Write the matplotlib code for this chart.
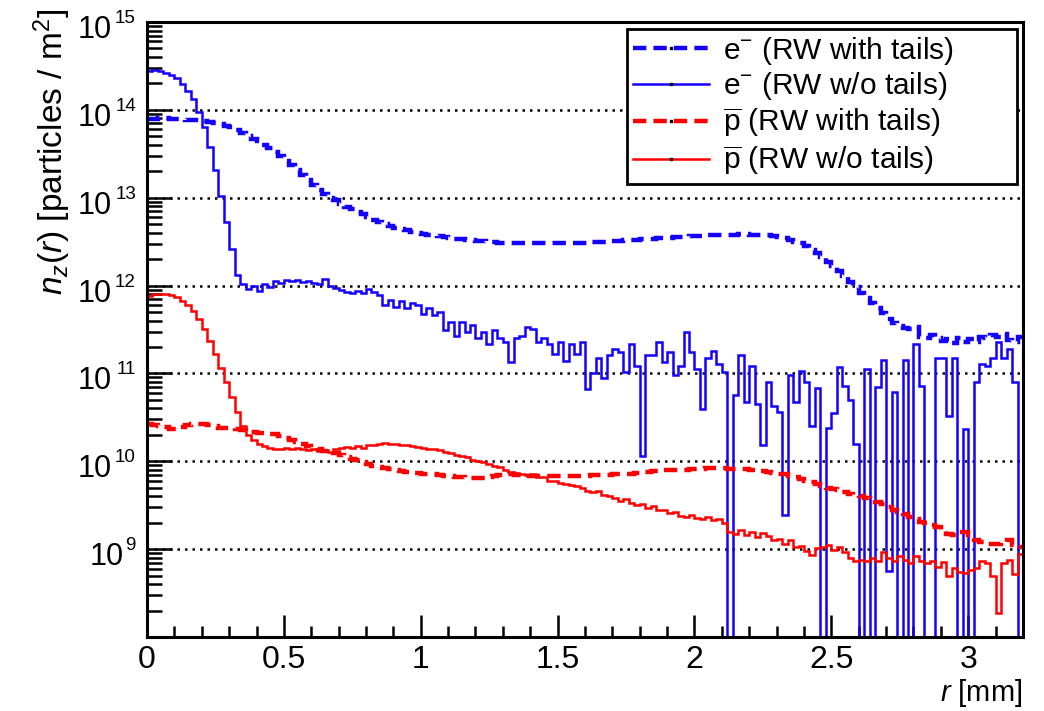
import numpy as np
import matplotlib
matplotlib.use('Agg')
import matplotlib.pyplot as plt
from matplotlib.lines import Line2D
from matplotlib.ticker import LogLocator, MultipleLocator, FixedLocator, NullFormatter

plt.rcParams['font.family'] = ['Liberation Sans', 'DejaVu Sans']
plt.rcParams['mathtext.fontset'] = 'custom'
plt.rcParams['mathtext.rm'] = 'Liberation Sans'
plt.rcParams['mathtext.it'] = 'Liberation Sans:italic'

# log10 of n_z(r) per 0.02 mm bin; None = empty bin
bin_w = 0.02
e_wo_log = [
    14.44, 14.45, 14.44, 14.42, 14.40, 14.36, 14.30, 14.22, 14.12, 13.98,
    13.80, 13.58, 13.32, 13.02, 12.72, 12.42, 12.12, 12.02, 11.96, 12.00,
    11.94, 12.02, 11.98, 12.05, 12.03, 12.06, 12.05, 12.06, 12.04, 12.05,
    12.03, 12.02, 12.07, 12.00, 11.97, 11.95, 11.93, 11.92, 11.94, 11.91,
    11.96, 11.93, 11.89, 11.78, 11.84, 11.76, 11.82, 11.74, 11.80, 11.78,
    11.68, 11.74, 11.67, 11.70, 11.49, 11.59, 11.43, 11.59, 11.47, 11.55,
    11.40, 11.47, 11.33, 11.49, 11.40, 11.36, 11.13, 11.40, 11.43, 11.53,
    11.51, 11.36, 11.40, 11.33, 11.22, 11.36, 11.14, 11.33, 11.22, 11.36,
    10.82, 11.00, 11.17, 10.95, 11.21, 11.28, 11.24, 11.02, 11.34, 11.09,
    10.06, 11.21, 11.21, 11.36, 11.13, 11.24, 10.98, 11.09, 11.47, 11.24,
    11.05, 10.60, 11.17, 11.26, 11.11, 11.02, None, 10.75, 11.21, 10.67,
    11.09, 10.65, 10.18, 10.90, 10.63, 10.56, 9.39, 10.98, 10.67, 11.03,
    10.90, 10.40, 10.83, None, 10.38, 10.55, 11.07, 10.86, 10.70, 10.20,
    None, 11.05, None, 10.85, 11.15, 8.75, 10.79, None, 11.15, None,
    11.34, 10.86, None, None, 11.17, 11.17, 10.52, 11.17, None, 10.37,
    None, 10.90, 11.11, 11.09, 11.17, 11.36, 11.17, 11.28, 10.90, None,
]
e_with_log = [
    13.90, 13.90, 13.91, 13.91, 13.90, 13.90, 13.90, 13.89, 13.89, 13.88,
    13.87, 13.86, 13.85, 13.84, 13.82, 13.80, 13.77, 13.74, 13.70, 13.67,
    13.64, 13.60, 13.57, 13.52, 13.47, 13.42, 13.37, 13.31, 13.26, 13.20,
    13.14, 13.09, 13.04, 13.00, 12.97, 12.93, 12.90, 12.87, 12.84, 12.81,
    12.78, 12.75, 12.72, 12.70, 12.68, 12.66, 12.64, 12.63, 12.61, 12.60,
    12.59, 12.58, 12.57, 12.56, 12.55, 12.54, 12.53, 12.53, 12.52, 12.52,
    12.51, 12.51, 12.50, 12.50, 12.49, 12.49, 12.49, 12.49, 12.49, 12.49,
    12.49, 12.48, 12.48, 12.48, 12.48, 12.48, 12.48, 12.48, 12.48, 12.49,
    12.49, 12.50, 12.50, 12.50, 12.51, 12.51, 12.51, 12.52, 12.52, 12.52,
    12.53, 12.53, 12.53, 12.54, 12.54, 12.54, 12.55, 12.55, 12.55, 12.56,
    12.56, 12.56, 12.57, 12.57, 12.57, 12.58, 12.58, 12.58, 12.59, 12.59,
    12.58, 12.58, 12.57, 12.57, 12.56, 12.55, 12.54, 12.52, 12.50, 12.48,
    12.45, 12.41, 12.37, 12.32, 12.27, 12.22, 12.17, 12.11, 12.04, 11.98,
    11.92, 11.86, 11.80, 11.74, 11.69, 11.62, 11.57, 11.54, 11.52, 11.51,
    11.53, 11.42, 11.40, 11.44, 11.40, 11.37, 11.39, 11.35, 11.40, 11.36,
    11.39, 11.36, 11.42, 11.40, 11.44, 11.41, 11.45, 11.38, 11.36, 11.42,
]
p_wo_log = [
    11.88, 11.90, 11.90, 11.90, 11.89, 11.87, 11.83, 11.78, 11.71, 11.62,
    11.50, 11.37, 11.22, 11.06, 10.90, 10.73, 10.56, 10.40, 10.30, 10.24,
    10.20, 10.17, 10.15, 10.14, 10.14, 10.15, 10.14, 10.15, 10.14, 10.13,
    10.14, 10.12, 10.13, 10.11, 10.14, 10.15, 10.16, 10.15, 10.17, 10.15,
    10.18, 10.19, 10.20, 10.21, 10.20, 10.20, 10.19, 10.19, 10.17, 10.16,
    10.15, 10.14, 10.14, 10.13, 10.11, 10.09, 10.07, 10.06, 10.05, 10.02,
    10.00, 9.99, 9.97, 9.95, 9.93, 9.90, 9.88, 9.87, 9.86, 9.84,
    9.85, 9.82, 9.82, 9.78, 9.77, 9.75, 9.74, 9.73, 9.72, 9.70,
    9.66, 9.65, 9.66, 9.62, 9.60, 9.58, 9.55, 9.57, 9.53, 9.50,
    9.51, 9.47, 9.49, 9.44, 9.45, 9.41, 9.42, 9.38, 9.37, 9.39,
    9.36, 9.34, 9.37, 9.33, 9.34, 9.30, 9.20, 9.17, 9.22, 9.16,
    9.20, 9.14, 9.18, 9.15, 9.10, 9.12, 9.06, 9.10, 9.02, 9.04,
    8.98, 8.93, 9.01, 9.02, 9.05, 8.99, 9.03, 8.97, 8.90, 8.86,
    8.88, 8.86, 8.90, 8.87, 8.97, 8.90, 8.86, 8.92, 8.88, 8.84,
    8.92, 8.87, 8.84, 8.87, 8.80, 8.85, 8.70, 8.78, 8.74, 8.73,
    8.76, 8.78, 8.86, 8.84, 8.70, 8.27, 8.84, 8.88, 8.72, 8.95,
]
p_with_log = [
    10.42, 10.41, 10.40, 10.39, 10.37, 10.37, 10.39, 10.41, 10.42, 10.42,
    10.42, 10.41, 10.40, 10.38, 10.38, 10.38, 10.37, 10.36, 10.35, 10.33,
    10.32, 10.32, 10.31, 10.31, 10.29, 10.27, 10.24, 10.22, 10.20, 10.17,
    10.15, 10.14, 10.12, 10.11, 10.09, 10.07, 10.05, 10.03, 10.01, 9.99,
    9.97, 9.95, 9.94, 9.92, 9.91, 9.90, 9.89, 9.88, 9.87, 9.87,
    9.86, 9.86, 9.85, 9.84, 9.83, 9.83, 9.82, 9.82, 9.81, 9.81,
    9.81, 9.81, 9.82, 9.83, 9.84, 9.85, 9.85, 9.84, 9.84, 9.83,
    9.83, 9.83, 9.83, 9.83, 9.83, 9.83, 9.83, 9.83, 9.83, 9.83,
    9.83, 9.84, 9.84, 9.84, 9.84, 9.85, 9.85, 9.86, 9.86, 9.87,
    9.88, 9.88, 9.89, 9.89, 9.90, 9.90, 9.90, 9.90, 9.90, 9.91,
    9.91, 9.91, 9.92, 9.92, 9.92, 9.92, 9.91, 9.91, 9.91, 9.91,
    9.90, 9.90, 9.89, 9.88, 9.87, 9.86, 9.85, 9.83, 9.82, 9.80,
    9.78, 9.76, 9.74, 9.72, 9.70, 9.68, 9.67, 9.65, 9.63, 9.62,
    9.60, 9.58, 9.57, 9.54, 9.51, 9.48, 9.45, 9.42, 9.40, 9.37,
    9.34, 9.31, 9.30, 9.27, 9.25, 9.21, 9.17, 9.16, 9.20, 9.19,
    9.13, 9.10, 9.08, 9.06, 9.06, 9.06, 9.08, 9.10, 9.05, 9.03,
]

labels = [r'e$^{-}$ (RW with tails)', r'e$^{-}$ (RW w/o tails)',
          r'$\overline{\mathrm{p}}$ (RW with tails)', r'$\overline{\mathrm{p}}$ (RW w/o tails)']
decades = [9, 10, 11, 12, 13, 14, 15]
x_ticks = [0, 0.5, 1, 1.5, 2, 2.5, 3]


def to_lin(vals):
    return np.array([0.0 if v is None else 10.0 ** v for v in vals])


edges = np.arange(len(e_wo_log) + 1) * bin_w

blue = '#1400ff'
red = '#ff0000'
dash = (3, 1.6)
lw_dash = 3.2
lw_solid = 1.8

fig = plt.figure(figsize=(10.44, 7.11), dpi=100)
ax = fig.add_axes([147 / 1044, 1 - 637 / 711, 876 / 1044, 615 / 711])

ax.stairs(to_lin(e_with_log), edges, baseline=None, color=blue, lw=lw_dash, ls=(0, dash), zorder=3)
ax.stairs(to_lin(e_wo_log), edges, baseline=None, color=blue, lw=lw_solid, zorder=3)
ax.stairs(to_lin(p_with_log), edges, baseline=None, color=red, lw=lw_dash, ls=(0, dash), zorder=3)
ax.stairs(to_lin(p_wo_log), edges, baseline=None, color=red, lw=lw_solid, zorder=3)

ax.set_yscale('log')
ax.set_ylim(1e8, 1e15)
ax.set_xlim(0, 3.2)

ax.yaxis.set_major_locator(FixedLocator([10.0 ** d for d in decades]))
ax.yaxis.set_major_formatter(NullFormatter())
ax.yaxis.set_minor_locator(LogLocator(base=10, subs=np.arange(2, 10), numticks=20))
ax.yaxis.set_minor_formatter(NullFormatter())
ax.xaxis.set_minor_locator(MultipleLocator(0.1))
ax.set_xticks(x_ticks)
ax.set_xticklabels([f'{v:g}' for v in x_ticks])

# ROOT style labels: big "10" with a small exponent, right aligned as a whole
for d in decades:
    exp_w = 12 * len(str(d))
    ax.annotate('10', xy=(0, 10.0 ** d), xycoords=('axes fraction', 'data'),
                xytext=(-11 - exp_w, -16), textcoords='offset pixels', ha='right',
                va='baseline', fontsize=22)
    ax.annotate(str(d), xy=(0, 10.0 ** d), xycoords=('axes fraction', 'data'),
                xytext=(-11, -1), textcoords='offset pixels', ha='right', va='baseline',
                fontsize=13.5)

for d in decades[:-1]:
    ax.axhline(10.0 ** d, color='black', lw=1.8, ls=(0, (1, 2)), zorder=1)

ax.tick_params(axis='both', which='both', direction='in', top=False, right=False, width=1.8)
ax.tick_params(axis='y', which='major', length=18)
ax.tick_params(axis='y', which='minor', length=11)
ax.tick_params(axis='x', which='major', length=16, pad=6, labelsize=23)
ax.tick_params(axis='x', which='minor', length=8)
for s in ax.spines.values():
    s.set_linewidth(2.2)
    s.set_zorder(4)

fig.text(52 / 1044, 1 - 9 / 711, r'$n_{z}(r)$ [particles / m$^{2}$]', rotation=90,
         ha='center', va='top', fontsize=24)
fig.text(1022 / 1044, 1 - 701 / 711, r'$r$ [mm]', ha='right', va='baseline', fontsize=21)

handles = [
    Line2D([], [], color=blue, lw=lw_dash, ls=(0, dash), marker='s', markersize=2,
           mfc='black', mec='black'),
    Line2D([], [], color=blue, lw=lw_solid, marker='s', markersize=2, mfc='black', mec='black'),
    Line2D([], [], color=red, lw=lw_dash, ls=(0, dash), marker='s', markersize=2,
           mfc='black', mec='black'),
    Line2D([], [], color=red, lw=lw_solid, marker='s', markersize=2, mfc='black', mec='black'),
]
leg = ax.legend(handles, labels, loc='upper left', bbox_to_anchor=(0.548, 0.738, 0.445, 0.251),
                mode='expand', fontsize=21.5, numpoints=1, handlelength=2.55, handletextpad=0.45,
                labelspacing=0.12, borderpad=0.2, borderaxespad=0, fancybox=False,
                edgecolor='black', framealpha=1)
leg.get_frame().set_linewidth(2)
leg.set_zorder(5)

fig.savefig('out.png', dpi=100)
